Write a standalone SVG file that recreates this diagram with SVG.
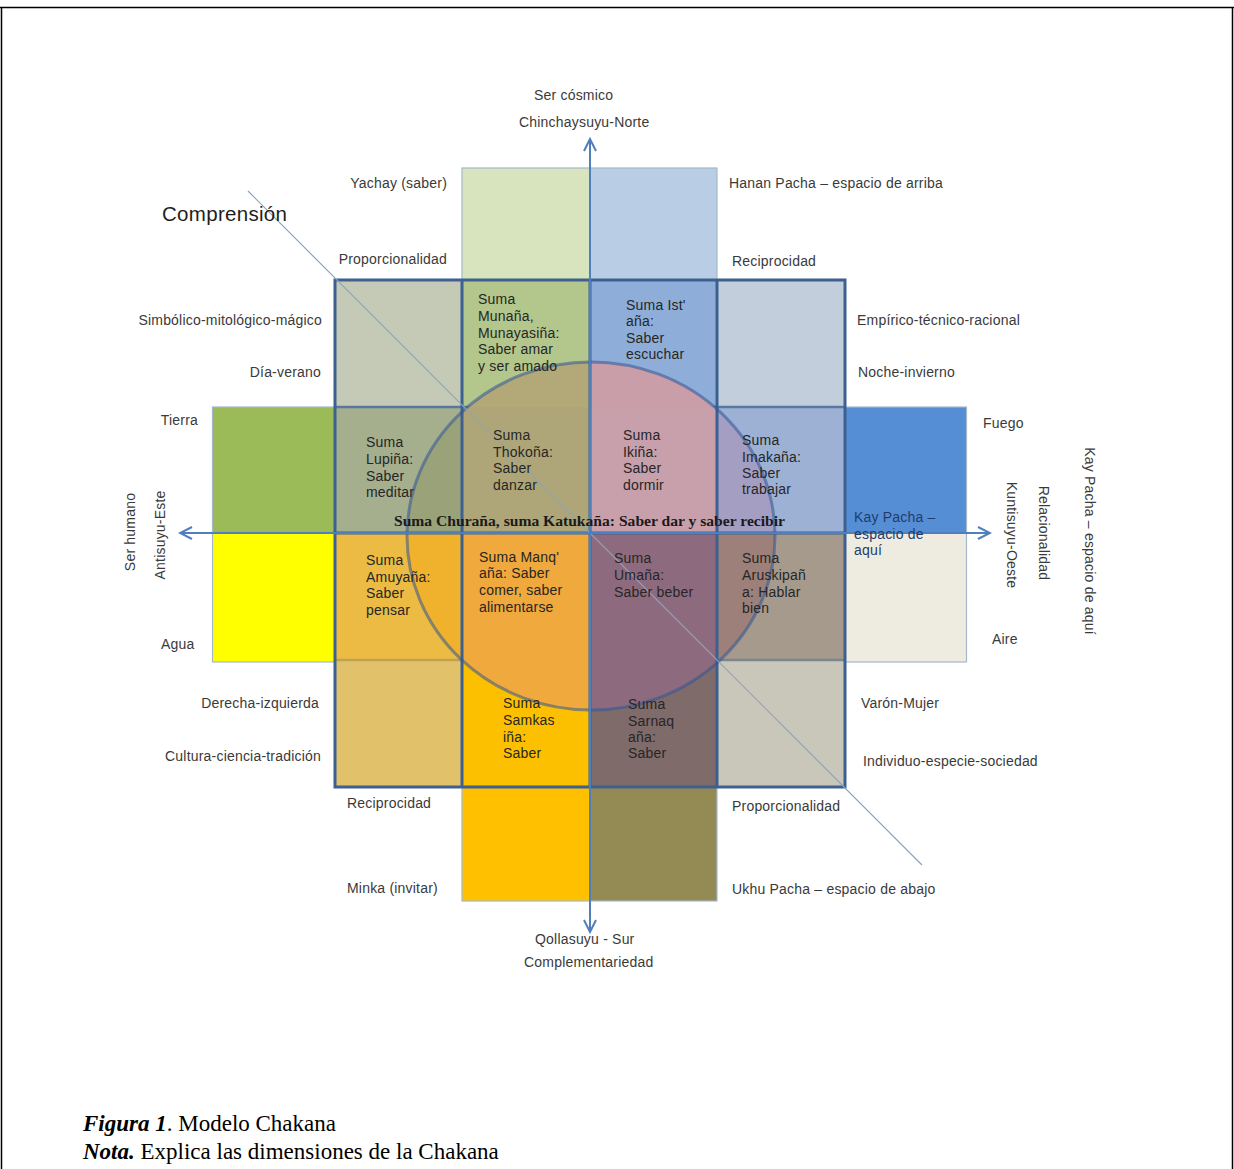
<svg xmlns="http://www.w3.org/2000/svg" width="1234" height="1169" viewBox="0 0 1234 1169">
<defs>
<style>
.lbl{font-family:"Liberation Sans",Arial,sans-serif;font-size:14px;fill:#3a3a3a;letter-spacing:0.2px}
.cell{font-family:"Liberation Sans",Arial,sans-serif;font-size:14px;fill:#262626;letter-spacing:0.2px}
.end{text-anchor:end}
.mid{text-anchor:middle}
.outer{stroke:#a6b7cc;stroke-width:1.2}
.axis{stroke:#4f7fbd;stroke-width:2;fill:none}
.grid{stroke:#3d6090;stroke-width:3;fill:none}
.cap{font-family:"Liberation Serif","Times New Roman",serif;font-size:23px;fill:#000}
.bi{font-weight:bold;font-style:italic}
</style>
<clipPath id="circ"><ellipse cx="591" cy="536" rx="184" ry="174"/></clipPath>
<marker id="arr" viewBox="-14 -8 16 16" markerWidth="16" markerHeight="16" refX="0" refY="0" orient="auto" markerUnits="userSpaceOnUse">
<path d="M-12,-6 L0,0 L-12,6" fill="none" stroke="#4f7fbd" stroke-width="2"/>
</marker>
</defs>
<rect width="1234" height="1169" fill="#ffffff"/>
<g id="frame" stroke="#000" stroke-width="1.5" fill="none">
<line x1="0" y1="7.5" x2="1234" y2="7.5"/>
<line x1="1.5" y1="7" x2="1.5" y2="1169"/>
<line x1="1232.5" y1="7" x2="1232.5" y2="1169"/>
</g>
<g id="tiles">
<rect class="outer" x="462" y="168" width="128" height="112" fill="#d8e4bd"/>
<rect class="outer" x="590" y="168" width="127" height="112" fill="#b9cde5"/>
<rect class="outer" x="462" y="787" width="128" height="114" fill="#ffc000"/>
<rect class="outer" x="590" y="787" width="127" height="114" fill="#948a54"/>
<rect class="outer" x="212.5" y="407" width="122.5" height="126" fill="#9bbb59"/>
<rect class="outer" x="212.5" y="533" width="122.5" height="129" fill="#ffff00"/>
<rect class="outer" x="845" y="407" width="121.5" height="126" fill="#558ed5"/>
<rect class="outer" x="845" y="533" width="121.5" height="129" fill="#eeece1"/>
<rect x="335" y="280" width="127" height="127" fill="#c4cab6"/>
<rect x="462" y="280" width="128" height="127" fill="#b3c68c"/>
<rect x="590" y="280" width="127" height="127" fill="#8eaed9"/>
<rect x="717" y="280" width="128" height="127" fill="#c3cedd"/>
<rect x="335" y="407" width="127" height="126" fill="#a5ae8d"/>
<rect x="462" y="407" width="128" height="126" fill="#aea679"/>
<rect x="590" y="407" width="127" height="126" fill="#c8a0ab"/>
<rect x="717" y="407" width="128" height="126" fill="#9cb1d4"/>
<rect x="335" y="533" width="127" height="127" fill="#ebbb44"/>
<rect x="462" y="533" width="128" height="127" fill="#f0a93c"/>
<rect x="590" y="533" width="127" height="127" fill="#8e6a7f"/>
<rect x="717" y="533" width="128" height="127" fill="#a69a8d"/>
<rect x="335" y="660" width="127" height="127" fill="#e2c16b"/>
<rect x="462" y="660" width="128" height="127" fill="#fcc000"/>
<rect x="590" y="660" width="127" height="127" fill="#7f6b69"/>
<rect x="717" y="660" width="128" height="127" fill="#c9c7b9"/>
</g>
<g id="thin-rows" fill="none" stroke-width="2.5">
<line x1="335" y1="407" x2="845" y2="407" stroke="#5878a0"/>
<line x1="335" y1="660" x2="462" y2="660" stroke="#bfa24e"/>
<line x1="462" y1="660" x2="717" y2="660" stroke="#6d6a7a"/>
<line x1="717" y1="660" x2="845" y2="660" stroke="#7d8590"/>
</g>
<g id="circle-fill" clip-path="url(#circ)">
<rect x="462" y="280" width="128" height="127" fill="#b2a878"/>
<rect x="590" y="280" width="127" height="127" fill="#c99ea8"/>
<rect x="335" y="407" width="127" height="126" fill="#9aa27a"/>
<rect x="462" y="407" width="128" height="126" fill="#aea679"/>
<rect x="590" y="407" width="127" height="126" fill="#c8a0ab"/>
<rect x="717" y="407" width="128" height="126" fill="#a59ec3"/>
<rect x="335" y="533" width="127" height="127" fill="#f0b22c"/>
<rect x="462" y="533" width="128" height="127" fill="#f0a93c"/>
<rect x="590" y="533" width="127" height="127" fill="#8e6a7f"/>
<rect x="717" y="533" width="128" height="127" fill="#9c8079"/>
<rect x="462" y="660" width="128" height="127" fill="#f0a93c"/>
<rect x="590" y="660" width="127" height="127" fill="#8e6a7f"/>
</g>
<g id="grid">
<rect class="grid" x="335" y="280" width="510" height="507"/>
<line class="grid" x1="462" y1="280" x2="462" y2="787"/>
<line class="grid" x1="590" y1="280" x2="590" y2="787"/>
<line class="grid" x1="717" y1="280" x2="717" y2="787"/>
<line class="grid" x1="335" y1="533" x2="845" y2="533"/>
</g>
<ellipse id="circle-outline" cx="591" cy="536" rx="184" ry="174" fill="none" stroke="#2f5597" stroke-opacity="0.55" stroke-width="3"/>
<g id="connectors">
<line x1="248" y1="191" x2="922" y2="865" stroke="#8da3bf" stroke-width="1.2"/>
<line class="axis" x1="590" y1="533" x2="590" y2="139" marker-end="url(#arr)"/>
<line class="axis" x1="590" y1="533" x2="590" y2="932" marker-end="url(#arr)"/>
<line class="axis" x1="590" y1="533" x2="180" y2="533" marker-end="url(#arr)"/>
<line class="axis" x1="590" y1="533" x2="990" y2="533" marker-end="url(#arr)"/>
</g>
<g id="node-munana" class="cell"><text x="478" y="304">Suma</text><text x="478" y="321">Munaña,</text><text x="478" y="338">Munayasiña:</text><text x="478" y="354">Saber amar</text><text x="478" y="371">y ser amado</text></g>
<g id="node-istana" class="cell"><text x="626" y="310">Suma Ist'</text><text x="626" y="326">aña:</text><text x="626" y="343">Saber</text><text x="626" y="359">escuchar</text></g>
<g id="node-lupina" class="cell"><text x="366" y="447">Suma</text><text x="366" y="464">Lupiña:</text><text x="366" y="481">Saber</text><text x="366" y="497">meditar</text></g>
<g id="node-thokona" class="cell"><text x="493" y="440">Suma</text><text x="493" y="457">Thokoña:</text><text x="493" y="473">Saber</text><text x="493" y="490">danzar</text></g>
<g id="node-ikina" class="cell"><text x="623" y="440">Suma</text><text x="623" y="457">Ikiña:</text><text x="623" y="473">Saber</text><text x="623" y="490">dormir</text></g>
<g id="node-imakana" class="cell"><text x="742" y="445">Suma</text><text x="742" y="462">Imakaña:</text><text x="742" y="478">Saber</text><text x="742" y="494">trabajar</text></g>
<g id="node-amuyana" class="cell"><text x="366" y="565">Suma</text><text x="366" y="582">Amuyaña:</text><text x="366" y="598">Saber</text><text x="366" y="615">pensar</text></g>
<g id="node-manqana" class="cell"><text x="479" y="562">Suma Manq'</text><text x="479" y="578">aña: Saber</text><text x="479" y="595">comer, saber</text><text x="479" y="612">alimentarse</text></g>
<g id="node-umana" class="cell"><text x="614" y="563">Suma</text><text x="614" y="580">Umaña:</text><text x="614" y="597">Saber beber</text></g>
<g id="node-aruskipana" class="cell"><text x="742" y="563">Suma</text><text x="742" y="580">Aruskipañ</text><text x="742" y="597">a: Hablar</text><text x="742" y="613">bien</text></g>
<g id="node-samkasina" class="cell"><text x="503" y="708">Suma</text><text x="503" y="725">Samkas</text><text x="503" y="742">iña:</text><text x="503" y="758">Saber</text></g>
<g id="node-sarnaqana" class="cell"><text x="628" y="709">Suma</text><text x="628" y="726">Sarnaq</text><text x="628" y="742">aña:</text><text x="628" y="758">Saber</text></g>
<g id="node-kaypacha-inner" class="cell" style="fill:#1f3d6b"><text x="854" y="522">Kay Pacha –</text><text x="854" y="539">espacio de</text><text x="854" y="555">aquí</text></g>
<g id="node-churana"><text x="394" y="526" textLength="391" lengthAdjust="spacingAndGlyphs" font-family="'Liberation Serif','Times New Roman',serif" font-size="14" font-weight="bold" fill="#1a1a1a">Suma Churaña, suma Katukaña: Saber dar y saber recibir</text></g>
<g id="labels" class="lbl">
<text x="534" y="100">Ser cósmico</text>
<text x="519" y="127">Chinchaysuyu-Norte</text>
<text class="end" x="447" y="188">Yachay (saber)</text>
<text x="162" y="221" style="font-size:20.5px;letter-spacing:0.3px;fill:#1e1e1e">Comprensión</text>
<text class="end" x="447" y="264">Proporcionalidad</text>
<text class="end" x="322" y="325">Simbólico-mitológico-mágico</text>
<text class="end" x="321" y="377">Día-verano</text>
<text class="end" x="198" y="425">Tierra</text>
<text x="161" y="649">Agua</text>
<text class="end" x="319" y="708">Derecha-izquierda</text>
<text class="end" x="321" y="761">Cultura-ciencia-tradición</text>
<text x="347" y="808">Reciprocidad</text>
<text x="347" y="893">Minka (invitar)</text>
<text x="535" y="944">Qollasuyu - Sur</text>
<text x="524" y="967">Complementariedad</text>
<text x="729" y="188">Hanan Pacha – espacio de arriba</text>
<text x="732" y="266">Reciprocidad</text>
<text x="857" y="325">Empírico-técnico-racional</text>
<text x="858" y="377">Noche-invierno</text>
<text x="983" y="428">Fuego</text>
<text x="992" y="644">Aire</text>
<text x="861" y="708">Varón-Mujer</text>
<text x="863" y="766">Individuo-especie-sociedad</text>
<text x="732" y="811">Proporcionalidad</text>
<text x="732" y="894">Ukhu Pacha – espacio de abajo</text>
<text class="mid" transform="translate(130,532) rotate(-90)" y="5">Ser humano</text>
<text class="mid" transform="translate(160,535) rotate(-90)" y="5">Antisuyu-Este</text>
<text class="mid" transform="translate(1012,535) rotate(90)" y="5">Kuntisuyu-Oeste</text>
<text class="mid" transform="translate(1044,533) rotate(90)" y="5">Relacionalidad</text>
<text class="mid" transform="translate(1090,541) rotate(90)" y="5">Kay Pacha – espacio de aquí</text>
</g>
<g id="caption" class="cap">
<text x="83" y="1131"><tspan class="bi">Figura 1</tspan>. Modelo Chakana</text>
<text x="83" y="1159"><tspan class="bi">Nota.</tspan> Explica las dimensiones de la Chakana</text>
</g>
</svg>
